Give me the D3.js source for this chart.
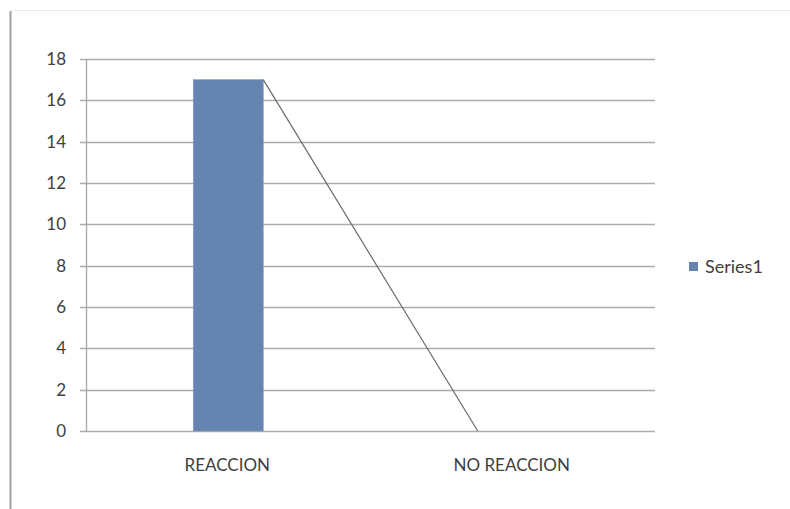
<!DOCTYPE html>
<html>
<head>
<meta charset="utf-8">
<script src="https://cdn.jsdelivr.net/npm/d3@7"></script>
<style>
  html, body { margin: 0; padding: 0; background: #fff; }
  svg { display: block; font-family: Lato, "Open Sans", sans-serif; }
</style>
</head>
<body>
<svg id="chart" width="790" height="509"></svg>
<script>
const categories = ["REACCION", "NO REACCION"];
const values = [17, 0];
const seriesName = "Series1";
const yTicks = [0, 2, 4, 6, 8, 10, 12, 14, 16, 18];

(function () {
const svg = d3.select("#chart");
const W = 790, H = 509;

// frame (left shadow + top line)
svg.append("rect").attr("x", 9).attr("y", 11).attr("width", 3).attr("height", H - 11)
  .attr("fill", "#d0d0d0");
svg.append("line").attr("x1", 10.5).attr("x2", 10.5).attr("y1", 11).attr("y2", H)
  .attr("stroke", "#a0a0a0").attr("stroke-width", 1);
svg.append("line").attr("x1", 11).attr("x2", W).attr("y1", 10.5).attr("y2", 10.5)
  .attr("stroke", "#ececec").attr("stroke-width", 1);

const pLeft = 86, pRight = 655, pTop = 59, pBottom = 431;

const x = d3.scaleBand().domain(categories).range([pLeft, pRight]).paddingInner(0).paddingOuter(0);
const y = d3.scaleLinear().domain([0, 18]).range([pBottom, pTop]);
const barW = x.bandwidth() * 0.246;

// gridlines
svg.append("g").selectAll("line").data(yTicks).join("line")
  .attr("x1", pLeft - 6).attr("x2", pRight)
  .attr("y1", d => Math.round(y(d)) + 0.5).attr("y2", d => Math.round(y(d)) + 0.5)
  .attr("stroke", "#ababab").attr("stroke-width", 1.4);

// y axis line
svg.append("line").attr("x1", pLeft + 0.5).attr("x2", pLeft + 0.5)
  .attr("y1", pTop).attr("y2", pBottom)
  .attr("stroke", "#ababab").attr("stroke-width", 1.4);

// y tick labels
svg.append("g").selectAll("text").data(yTicks).join("text")
  .attr("x", pLeft - 20).attr("y", d => y(d))
  .attr("dy", "0.36em").attr("text-anchor", "end")
  .attr("font-size", 17).attr("fill", "#404040")
  .text(d => d);

// bars
const barX = d => x(d) + x.bandwidth() / 2 - barW / 2;
svg.append("g").selectAll("rect").data(categories).join("rect")
  .attr("x", d => barX(d))
  .attr("y", (d, i) => y(values[i]))
  .attr("width", barW)
  .attr("height", (d, i) => y(0) - y(values[i]))
  .attr("fill", "#6585b0")
  .attr("stroke", "#7f9cc4").attr("stroke-width", 0.6);

// series line: top-right of one bar to top-left of the next
const pts = [];
for (let i = 0; i < categories.length - 1; i++) {
  pts.push([[barX(categories[i]) + barW, y(values[i])], [barX(categories[i + 1]), y(values[i + 1])]]);
}
svg.append("g").selectAll("line").data(pts).join("line")
  .attr("x1", d => d[0][0]).attr("y1", d => d[0][1])
  .attr("x2", d => d[1][0]).attr("y2", d => d[1][1])
  .attr("stroke", "#6a6a6a").attr("stroke-width", 1.2);

// category labels
svg.append("g").selectAll("text").data(categories).join("text")
  .attr("x", d => x(d) + x.bandwidth() / 2 - 1).attr("y", 465)
  .attr("dy", "0.36em").attr("text-anchor", "middle")
  .attr("font-size", 17).attr("fill", "#404040")
  .text(d => d);

// legend
svg.append("rect").attr("x", 689).attr("y", 262).attr("width", 9).attr("height", 9)
  .attr("fill", "#6585b0");
svg.append("text").attr("x", 705).attr("y", 267).attr("dy", "0.36em")
  .attr("font-size", 18).attr("fill", "#404040").text(seriesName);
})();
</script>
</body>
</html>
